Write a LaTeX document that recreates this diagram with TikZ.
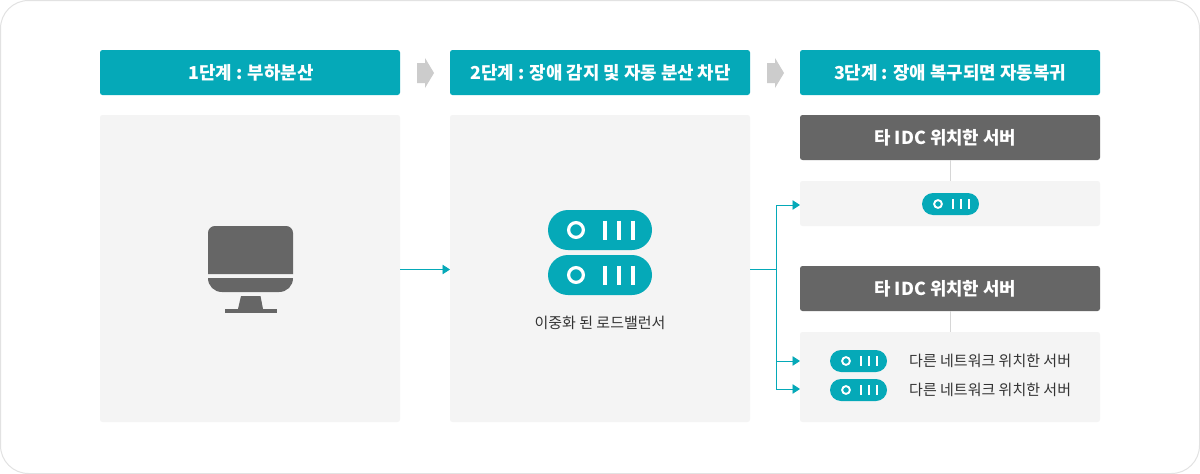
\documentclass[tikz,border=0pt]{standalone}
\usepackage{fontspec}
\setmainfont{Noto Sans CJK KR}
\usetikzlibrary{arrows.meta,calc}
\definecolor{teal1}{HTML}{05A9B8}
\definecolor{dark1}{HTML}{666666}
\definecolor{panel1}{HTML}{F4F4F4}
\definecolor{chev1}{HTML}{CCCCCC}
\definecolor{txt1}{HTML}{333333}
\definecolor{rim1}{HTML}{E2E2E2}
\tikzset{
  boxbase/.style={rectangle,rounded corners=2.5pt,inner sep=0pt,minimum width=300pt},
  stepbox/.style={boxbase,fill=teal1,text=white,minimum height=45pt,font=\fontsize{17.85}{20}\selectfont\bfseries},
  hostbox/.style={boxbase,fill=dark1,text=white,minimum height=45pt,font=\fontsize{17.85}{20}\selectfont\bfseries},
  panelbox/.style={boxbase,fill=panel1},
  lab/.style={inner sep=0pt,text=txt1,font=\fontsize{15}{17}\selectfont},
  flow/.style={draw=teal1,line width=0.9pt,-{Triangle[length=7.5pt,width=9.5pt]}},
  flowplain/.style={draw=teal1,line width=0.9pt},
  tie/.style={draw=chev1!80!white,line width=0.9pt},
  chev/.style={fill=chev1},
  pillshape/.style={rectangle,rounded corners=11pt,fill=teal1,minimum width=57pt,minimum height=22pt,inner sep=0pt},
  bigpill/.style={rectangle,rounded corners=20pt,fill=teal1,minimum width=104pt,minimum height=40pt,inner sep=0pt},
}
\newcommand{\smallglyph}[1]{%
  \draw[white,line width=1.9pt] ($(#1)+(-12.5,0)$) circle (3.9pt);
  \foreach \dx in {2.7,10.4,18.4}{\draw[white,line width=1.9pt] ($(#1)+(\dx,-5)$) -- ($(#1)+(\dx,5)$);}
}
\newcommand{\bigglyph}[1]{%
  \draw[white,line width=3.2pt] ($(#1)+(-24,0)$) circle (7.4pt);
  \foreach \dx in {5,19,33}{\draw[white,line width=3.2pt] ($(#1)+(\dx,-9.5)$) -- ($(#1)+(\dx,9.5)$);}
}
\begin{document}
\begin{tikzpicture}[x=1pt,y=-1pt]
\useasboundingbox (0,0) rectangle (1200,474);
\draw[rim1,fill=white,line width=1pt,rounded corners=28pt] (0.5,0.5) rectangle (1199.5,473.5);
% step headers
\node[stepbox] (s1) at (250,72.5) {\hspace{2pt}1단계 : 부하분산};
\node[stepbox] (s2) at (600,72.5) {\hspace{1pt}2단계 : 장애 감지 및 자동 분산 차단};
\node[stepbox] (s3) at (950,72.5) {3단계 : 장애 복구되면 자동복귀};
% chevrons
\foreach \x in {417,767}{
  \fill[chev] (\x,63) -- (\x+8,63) -- (\x+8,58) -- (\x+17,73) -- (\x+8,88) -- (\x+8,83) -- (\x,83) -- cycle;
}
% panels
\node[panelbox,minimum height=307pt] (p1) at (250,268.5) {};
\node[panelbox,minimum height=307pt] (p2) at (600,268.5) {};
\node[hostbox] (h1) at (950,137.5) {\hbox{타 IDC 위치한 서버\kern9.5pt}};
\node[panelbox,minimum height=45pt] (q1) at (950,203.5) {};
\node[hostbox] (h2) at (950,288.5) {\hbox{타 IDC 위치한 서버\kern9.5pt}};
\node[panelbox,minimum height=90pt] (q2) at (950,377) {};
\draw[tie] (h1.south) -- (q1.north);
\draw[tie] (h2.south) -- (q2.north);
% monitor
\fill[dark1] (208,274) -- (208,233) .. controls (208,229) and (211,226) .. (215,226) -- (286,226) .. controls (290,226) and (293,229) .. (293,233) -- (293,274) -- cycle;
\fill[dark1] (208,278) -- (293,278) .. controls (293,286) and (287,292) .. (279,292) -- (222,292) .. controls (214,292) and (208,286) .. (208,278) -- cycle;
\fill[dark1] (241,296) -- (260.5,296) -- (263,309) -- (238,309) -- cycle;
\fill[dark1] (224.5,309) rectangle (276.5,313);
% big pills
\node[bigpill] (b1) at (600,230) {};
\node[bigpill] (b2) at (600,275) {};
\bigglyph{b1}
\bigglyph{b2}
\node[lab] (t0) at (600,322.5) {이중화 된 로드밸런서};
% small pills
\node[pillshape] (m1) at (950.5,204) {};
\smallglyph{m1}
\node[pillshape] (m2) at (858.5,361) {};
\smallglyph{m2}
\node[pillshape] (m3) at (858.5,390) {};
\smallglyph{m3}
\node[lab,anchor=west] (t1) at (909,360.5) {다른 네트워크 위치한 서버};
\node[lab,anchor=west] (t2) at (909,389.5) {다른 네트워크 위치한 서버};
% connectors
\coordinate (j) at (776,269);
\coordinate (j0) at (750,269);
\coordinate (e1) at (800,205);
\coordinate (e2) at (800,361);
\coordinate (e3) at (800,389);
\coordinate (a1) at (400,269.5);
\coordinate (a2) at (450,269.5);
\draw[flow] (a1) -- (a2);
\draw[flowplain] (j0) -- (j);
\draw[flow] (j) |- (e1);
\draw[flow] (j) |- (e2);
\draw[flow] (j) |- (e3);
\end{tikzpicture}
\end{document}
